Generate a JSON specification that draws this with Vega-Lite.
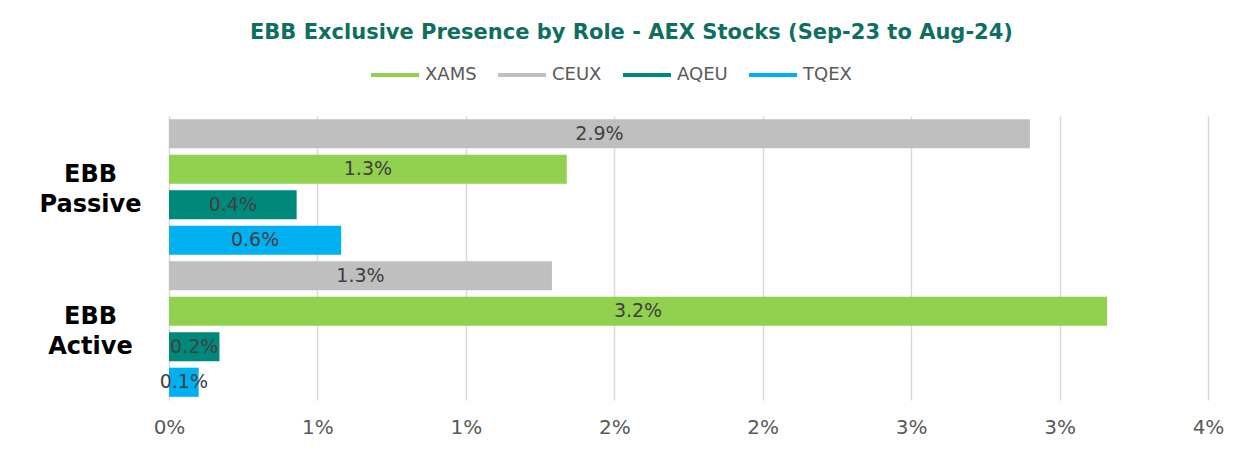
{
  "$schema": "https://vega.github.io/schema/vega-lite/v6.json",
  "width": 1039,
  "height": 284,
  "autosize": {"type": "none"},
  "padding": {"left": 169, "top": 116, "right": 40, "bottom": 54},
  "background": "white",
  "config": {"font": "DejaVu Sans", "view": {"stroke": null}},
  "title": {
    "text": "EBB Exclusive Presence by Role - AEX Stocks (Sep-23 to Aug-24)",
    "anchor": "middle",
    "frame": "bounds",
    "fontSize": 21,
    "fontWeight": "bold",
    "color": "#0E6F5F",
    "baseline": "bottom",
    "offset": -15
  },
  "data": {
    "values": [
      {"role": "EBB Passive", "venue": "CEUX", "value": 0.029},
      {"role": "EBB Passive", "venue": "XAMS", "value": 0.0134},
      {"role": "EBB Passive", "venue": "AQEU", "value": 0.0043},
      {"role": "EBB Passive", "venue": "TQEX", "value": 0.0058},
      {"role": "EBB Active", "venue": "CEUX", "value": 0.0129},
      {"role": "EBB Active", "venue": "XAMS", "value": 0.0316},
      {"role": "EBB Active", "venue": "AQEU", "value": 0.0017},
      {"role": "EBB Active", "venue": "TQEX", "value": 0.001}
    ]
  },
  "encoding": {
    "y": {
      "field": "role",
      "type": "nominal",
      "sort": ["EBB Passive", "EBB Active"],
      "scale": {"paddingInner": 0, "paddingOuter": 0},
      "axis": {
        "title": null,
        "domain": false,
        "ticks": false,
        "tickSize": 0,
        "grid": false,
        "labelExpr": "split(datum.label, ' ')",
        "labelAlign": "center",
        "labelBaseline": "middle",
        "labelPadding": 79,
        "labelOffset": -12,
        "labelLineHeight": 30,
        "labelFontSize": 24,
        "labelFontWeight": "bold",
        "labelColor": "#000000"
      }
    },
    "yOffset": {
      "field": "venue",
      "type": "nominal",
      "sort": ["CEUX", "XAMS", "AQEU", "TQEX"],
      "scale": {"paddingInner": 0.18, "paddingOuter": 0.09}
    }
  },
  "layer": [
    {
      "mark": {"type": "bar"},
      "encoding": {
        "x": {
          "field": "value",
          "type": "quantitative",
          "stack": "zero",
          "scale": {"domain": [0, 0.035], "nice": false},
          "axis": {
            "title": null,
            "values": [0, 0.005, 0.01, 0.015, 0.02, 0.025, 0.03, 0.035],
            "format": ".0%",
            "grid": true,
            "gridColor": "#D9D9D9",
            "gridWidth": 1.5,
            "domain": false,
            "ticks": false,
            "labelFlush": false,
            "labelOverlap": false,
            "labelPadding": 17,
            "labelFontSize": 20,
            "labelColor": "#595959"
          }
        },
        "color": {
          "field": "venue",
          "type": "nominal",
          "scale": {
            "domain": ["XAMS", "CEUX", "AQEU", "TQEX"],
            "range": ["#92D050", "#BFBFBF", "#00897B", "#00B0F0"]
          },
          "legend": {
            "title": null,
            "orient": "none",
            "legendX": 200,
            "legendY": -67,
            "direction": "horizontal",
            "symbolType": "stroke",
            "symbolStrokeWidth": 4,
            "symbolSize": 2304,
            "labelFontSize": 18,
            "labelColor": "#595959",
            "labelOffset": 4,
            "columnPadding": 13,
            "encode": {
              "symbols": {
                "update": {
                  "stroke": {"scale": "color", "field": "value"},
                  "strokeWidth": {"value": 4}
                }
              }
            }
          }
        }
      }
    },
    {
      "mark": {"type": "text", "color": "#404040", "fontSize": 19, "baseline": "middle", "align": "center"},
      "encoding": {
        "x": {"field": "value", "type": "quantitative", "stack": "zero", "bandPosition": 0.5},
        "detail": {"field": "venue", "type": "nominal"},
        "text": {"field": "value", "type": "quantitative", "format": ".1%"}
      }
    }
  ]
}
